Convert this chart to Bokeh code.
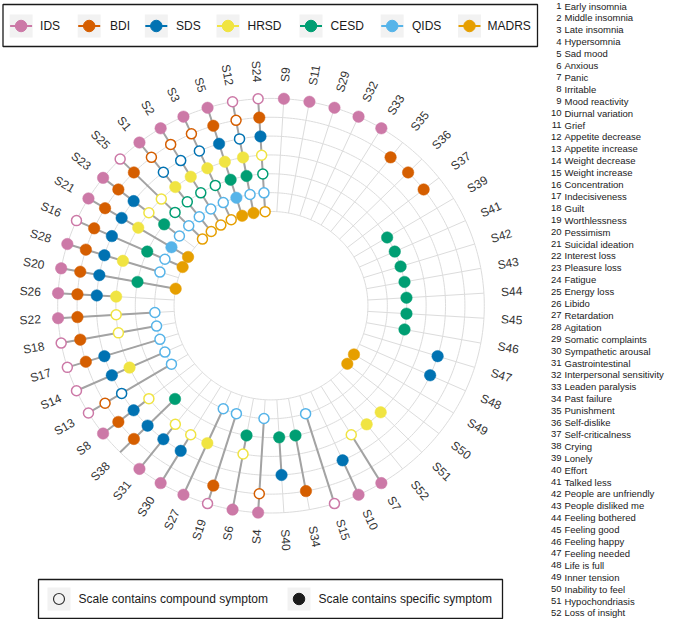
import numpy as np
from bokeh.plotting import figure
from bokeh.models import ColumnDataSource
from bokeh.embed import file_html
from bokeh.resources import INLINE
from bokeh.core.properties import value

# ---------------- data ----------------
scales = ["IDS", "BDI", "SDS", "HRSD", "CESD", "QIDS", "MADRS"]
scale_colors = ["#CC79A7", "#D55E00", "#0072B2", "#F0E442", "#009E73", "#56B4E9", "#E69F00"]

# symptom order around the circle, clockwise from the top
ring_order = ["S24", "S9", "S11", "S29", "S32", "S33", "S35", "S36", "S37", "S39", "S41", "S42",
              "S43", "S44", "S45", "S46", "S47", "S48", "S49", "S50", "S51", "S52", "S7", "S10",
              "S15", "S34", "S40", "S4", "S6", "S19", "S27", "S30", "S31", "S38", "S8", "S13",
              "S14", "S17", "S18", "S22", "S26", "S20", "S28", "S16", "S21", "S23", "S25", "S1",
              "S2", "S3", "S5", "S12"]

symptom_names = ["Early insomnia", "Middle insomnia", "Late insomnia", "Hypersomnia", "Sad mood",
                 "Anxious", "Panic", "Irritable", "Mood reactivity", "Diurnal variation", "Grief",
                 "Appetite decrease", "Appetite increase", "Weight decrease", "Weight increase",
                 "Concentration", "Indecisiveness", "Guilt", "Worthlessness", "Pessimism",
                 "Suicidal ideation", "Interest loss", "Pleasure loss", "Fatigue", "Energy loss",
                 "Libido", "Retardation", "Agitation", "Somatic complaints", "Sympathetic arousal",
                 "Gastrointestinal", "Interpersonal sensitivity", "Leaden paralysis", "Past failure",
                 "Punishment", "Self-dislike", "Self-criticalness", "Crying", "Lonely", "Effort",
                 "Talked less", "People are unfriendly", "People disliked me", "Feeling bothered",
                 "Feeling good", "Feeling happy", "Feeling needed", "Life is full", "Inner tension",
                 "Inability to feel", "Hypochondriasis", "Loss of insight"]

IDS_specific = ["S9", "S11", "S29", "S32", "S33", "S7", "S10", "S4", "S6", "S27", "S30", "S31", "S8",
                "S22", "S26", "S20", "S28", "S21", "S23", "S1", "S2", "S3", "S5"]
IDS_compound = ["S24", "S15", "S19", "S13", "S14", "S17", "S18", "S16", "S25", "S12"]
BDI_specific = ["S35", "S36", "S37", "S34", "S19", "S38", "S8", "S17", "S18", "S22", "S26", "S20",
                "S28", "S16", "S21", "S23", "S25", "S24", "S5"]
BDI_compound = ["S4", "S13", "S1", "S2", "S3", "S12"]
SDS_specific = ["S47", "S48", "S10", "S40", "S30", "S31", "S38", "S8", "S14", "S17", "S26", "S20",
                "S28", "S16", "S21", "S23", "S24", "S5"]
SDS_compound = ["S13", "S1", "S2", "S3", "S12"]
HRSD_specific = ["S51", "S52", "S27", "S14", "S26", "S28", "S21", "S1", "S2", "S3", "S5", "S12"]
HRSD_compound = ["S7", "S6", "S30", "S31", "S8", "S18", "S22", "S23", "S25", "S24"]
CESD_specific = ["S39", "S41", "S42", "S43", "S44", "S45", "S46", "S34", "S40", "S6", "S38", "S20",
                 "S16", "S23", "S5", "S12"]
CESD_compound = ["S25", "S1", "S2", "S3", "S24"]
QIDS_specific = ["S21", "S5"]
QIDS_compound = ["S15", "S4", "S19", "S27", "S13", "S14", "S17", "S18", "S22", "S28", "S16", "S23",
                 "S25", "S1", "S2", "S3", "S12", "S24"]
MADRS_specific = ["S49", "S50", "S20", "S16", "S21", "S5", "S12"]
MADRS_compound = ["S25", "S1", "S2", "S3", "S24"]
IDS_line_only = ["S38"]

specific_lists = [IDS_specific, BDI_specific, SDS_specific, HRSD_specific, CESD_specific,
                  QIDS_specific, MADRS_specific]
compound_lists = [IDS_compound, BDI_compound, SDS_compound, HRSD_compound, CESD_compound,
                  QIDS_compound, MADRS_compound]

legend_kinds = ["Scale contains compound symptom", "Scale contains specific symptom"]

# ---------------- layout ----------------
W, H = 666, 619
CX, CY = 270.5, 305.2      # chart centre (page pixels)
XS = 1.029                 # horizontal stretch of the polar panel
R_OUT = 207.3
STEP = 18.85
R_LAB = 224.0
FONT = value("Liberation Sans")


def to_data(xr, yr):
    return np.asarray(xr, dtype=float), H - np.asarray(yr, dtype=float)


n = len(ring_order)
dA = 2 * np.pi / n
angle_of = {s: (i - 0.5) * dA for i, s in enumerate(ring_order)}
radius_of = {sc: R_OUT - k * STEP for k, sc in enumerate(scales)}
R_IN = radius_of[scales[-1]]


def polar(r, a):
    r = np.asarray(r, dtype=float)
    a = np.asarray(a, dtype=float)
    return to_data(CX + XS * r * np.sin(a), CY - r * np.cos(a))


p = figure(width=W, height=H, x_range=(0, W), y_range=(0, H), min_border=0,
           toolbar_location=None, output_backend="svg")
p.axis.visible = False
p.grid.visible = False
p.outline_line_color = None
p.background_fill_color = "white"

# grid rings
t = np.linspace(0, 2 * np.pi, 400)
ring_xs, ring_ys = [], []
for sc in scales:
    x, y = polar(np.full_like(t, radius_of[sc]), t)
    ring_xs.append(list(x)); ring_ys.append(list(y))
p.multi_line(ring_xs, ring_ys, line_color="#DCDCDC", line_width=1)

# spokes
ang = np.array([angle_of[s] for s in ring_order])
x0, y0 = polar(np.full(n, R_IN), ang)
x1, y1 = polar(np.full(n, R_OUT), ang)
p.segment(x0, y0, x1, y1, line_color="#DCDCDC", line_width=1)

# connectors
membership = {s: [] for s in ring_order}
for sc, sl, cl in zip(scales, specific_lists, compound_lists):
    for s in sl + cl:
        membership[s].append(radius_of[sc])
for s in IDS_line_only:
    membership[s].append(radius_of["IDS"])
cx0, cy0, cx1, cy1 = [], [], [], []
for s in ring_order:
    rs = membership[s]
    if len(rs) >= 2:
        a = angle_of[s]
        xa, ya = polar(max(rs), a)
        xb, yb = polar(min(rs), a)
        cx0.append(float(xa)); cy0.append(float(ya)); cx1.append(float(xb)); cy1.append(float(yb))
p.segment(cx0, cy0, cx1, cy1, line_color="#A3A3A3", line_width=2)

# dots
for sc, col, sl, cl in zip(scales, scale_colors, specific_lists, compound_lists):
    if cl:
        x, y = polar([radius_of[sc]] * len(cl), [angle_of[s] for s in cl])
        p.scatter(x, y, size=10, marker="circle", fill_color="white", line_color=col, line_width=1.5)
    if sl:
        x, y = polar([radius_of[sc]] * len(sl), [angle_of[s] for s in sl])
        p.scatter(x, y, size=11.5, marker="circle", fill_color=col, line_color=col, line_width=0.5)

# symptom labels around the circle
lx, ly = polar(np.full(n, R_LAB), ang)
theta = np.arctan2(np.cos(ang), XS * np.sin(ang))
right = np.sin(ang) > 0
src_r = ColumnDataSource(dict(x=lx[right], y=ly[right], t=np.array(ring_order)[right], a=theta[right]))
src_l = ColumnDataSource(dict(x=lx[~right], y=ly[~right], t=np.array(ring_order)[~right],
                              a=theta[~right] + np.pi))
p.text(x="x", y="y", text="t", angle="a", source=src_r, text_align="left", text_baseline="middle",
       text_font=FONT, text_font_size="12px", text_color="#333333")
p.text(x="x", y="y", text="t", angle="a", source=src_l, text_align="right", text_baseline="middle",
       text_font=FONT, text_font_size="12px", text_color="#333333")

# ---------------- top legend ----------------
bx0, bx1, by0, by1 = 2.5, 537, 4, 46
X, Y = to_data([(bx0 + bx1) / 2], [(by0 + by1) / 2])
p.rect(X, Y, width=bx1 - bx0, height=by1 - by0, fill_color="white", line_color="#1a1a1a", line_width=1.3)
key_cx = [20.6, 88.7, 155.8, 227.5, 310.5, 391.7, 469.0]
lab_x = [39.6, 109.5, 175.6, 247.0, 330.0, 411.5, 487.0]
key_cy = 25.5
kx, ky = to_data(key_cx, [key_cy] * len(key_cx))
p.rect(kx, ky, width=23, height=23, fill_color="#F2F2F2", line_color=None)
p.segment(kx - 11, ky, kx + 11, ky, line_color=scale_colors, line_width=2)
p.scatter(kx, ky, size=11.5, marker="circle", fill_color=scale_colors, line_color=scale_colors)
tx, ty = to_data(lab_x, [key_cy] * len(lab_x))
p.text(tx, ty, text=scales, text_align="left", text_baseline="middle", text_font=FONT,
       text_font_size="12px", text_color="#1a1a1a")

# ---------------- bottom legend ----------------
bx0, bx1, by0, by1 = 38, 502, 579, 618
X, Y = to_data([(bx0 + bx1) / 2], [(by0 + by1) / 2])
p.rect(X, Y, width=bx1 - bx0, height=by1 - by0, fill_color="white", line_color="#1a1a1a", line_width=1.3)
kx, ky = to_data([58.5, 298.5], [598.5, 598.5])
p.rect(kx, ky, width=23, height=23, fill_color="#F2F2F2", line_color=None)
p.scatter(kx[:1], ky[:1], size=11, marker="circle", fill_color=None, line_color="#333333", line_width=1.2)
p.scatter(kx[1:], ky[1:], size=11.5, marker="circle", fill_color="#1a1a1a", line_color="#1a1a1a")
tx, ty = to_data([78, 318], [598.5, 598.5])
p.text(tx, ty, text=legend_kinds, text_align="left", text_baseline="middle", text_font=FONT,
       text_font_size="12px", text_color="#1a1a1a")

# ---------------- symptom list ----------------
rows = np.arange(len(symptom_names))
ry = 5.5 + rows * 11.9
nx, ny = to_data(np.full(len(rows), 561.0), ry)
p.text(nx, ny, text=[str(i + 1) for i in rows], text_align="right", text_baseline="middle",
       text_font=FONT, text_font_size="9.5px", text_color="#1a1a1a")
mx, my = to_data(np.full(len(rows), 564.0), ry)
p.text(mx, my, text=symptom_names, text_align="left", text_baseline="middle",
       text_font=FONT, text_font_size="9.5px", text_color="#1a1a1a")

open("out.html", "w").write(file_html(p, INLINE))
